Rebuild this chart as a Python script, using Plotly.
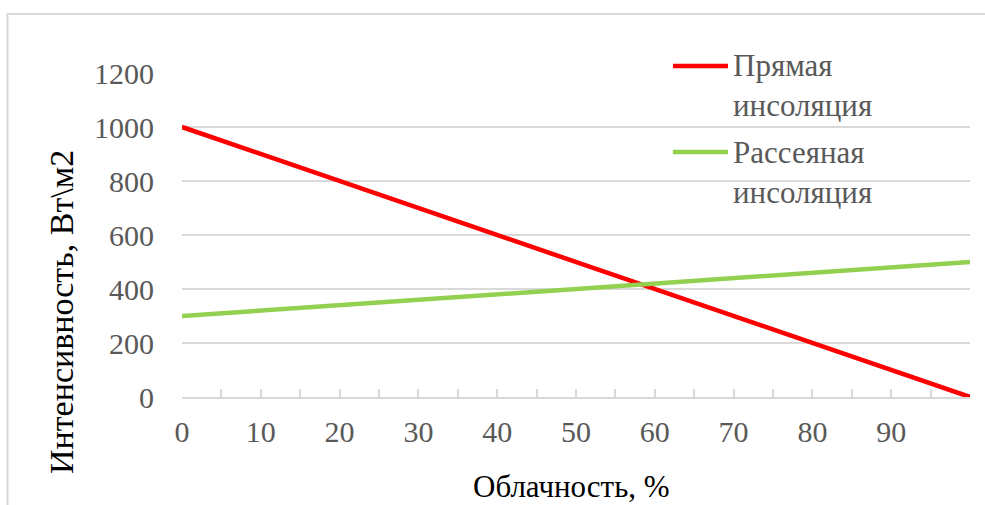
import plotly.graph_objects as go

# Cloudiness (%) and insolation intensity (W/m2)
cloudiness = [0, 100]
direct = [1000, 0]
diffuse = [300, 500]

series_names = ["Прямая<br>инсоляция", "Рассеяная<br>инсоляция"]
series_colors = ["#ff0000", "#92d050"]

x_ticks = list(range(0, 101, 5))
x_labels = [str(v) if v % 10 == 0 and v < 100 else "" for v in x_ticks]
y_ticks = [0, 200, 400, 600, 800, 1000, 1200]

W, H = 985, 505
L, R, T, B = 182, 15, 73, 108
PW, PH = W - L - R, H - T - B


def px(xp):
    return (xp - L) / PW


def py(yp):
    return (H - B - yp) / PH


SERIF = "Liberation Serif, Times New Roman, serif"
GREY = "#d9d9d9"
TEXT = "#595959"

tmpl = go.layout.Template()
tmpl.layout.font = dict(family=SERIF, size=30)

fig = go.Figure()
fig.add_trace(go.Scatter(x=cloudiness, y=direct, mode="lines", name=series_names[0],
                         line=dict(color=series_colors[0], width=4.5)))
fig.add_trace(go.Scatter(x=cloudiness, y=diffuse, mode="lines", name=series_names[1],
                         line=dict(color=series_colors[1], width=4.5)))

fig.update_layout(template=tmpl, width=W, height=H, showlegend=False,
                  font_family=SERIF, font_size=30,
                  margin=dict(l=L, r=R, t=T, b=B),
                  plot_bgcolor="white", paper_bgcolor="white")

# chart area border
fig.add_shape(type="rect", xref="paper", yref="paper",
              x0=px(7.5), x1=px(1100), y0=py(14), y1=py(600),
              line=dict(color=GREY, width=2), layer="below")

# legend: line samples with labels
for ly, cy, name, col in [(66, 86, series_names[0], series_colors[0]),
                          (152, 172, series_names[1], series_colors[1])]:
    fig.add_shape(type="line", xref="paper", yref="paper",
                  x0=px(673), x1=px(728), y0=py(ly), y1=py(ly),
                  line=dict(color=col, width=4.5))
    fig.add_annotation(xref="paper", yref="paper", x=px(731), y=py(cy),
                       xanchor="left", yanchor="middle", align="left",
                       text=name, showarrow=False,
                       font=dict(family=SERIF, size=31, color=TEXT))

fig.add_annotation(xref="paper", yref="paper", x=px(571), y=py(487),
                   xanchor="center", yanchor="middle",
                   text="Облачность, %", showarrow=False,
                   font=dict(family=SERIF, size=31, color="#000000"))
fig.add_annotation(xref="paper", yref="paper", x=px(61), y=py(312),
                   xanchor="center", yanchor="middle", textangle=-90,
                   text="Интенсивность, Вт\\м2", showarrow=False,
                   font=dict(family=SERIF, size=34, color="#000000"))

fig.update_xaxes(range=[0, 100], tickvals=x_ticks, ticktext=x_labels,
                 ticks="inside", ticklen=8, tickwidth=1.5, tickcolor=GREY,
                 showline=True, linecolor=GREY, linewidth=2,
                 showgrid=False, zeroline=False, ticklabelstandoff=7,
                 tickfont=dict(family=SERIF, size=30, color=TEXT))
fig.update_yaxes(range=[0, 1200], tickvals=y_ticks,
                 showgrid=True, gridcolor=GREY, gridwidth=1.5,
                 zeroline=False, showline=False, ticks="",
                 ticklabelstandoff=27,
                 tickfont=dict(family=SERIF, size=30, color=TEXT))

fig.write_html("out.html")
